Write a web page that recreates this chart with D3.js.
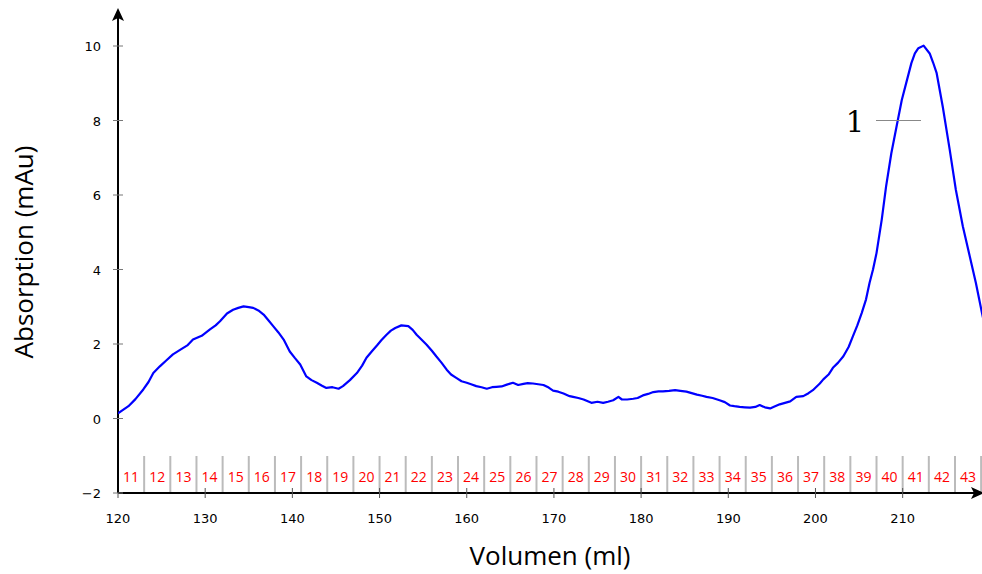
<!DOCTYPE html>
<html><head><meta charset="utf-8">
<script src="https://cdn.jsdelivr.net/npm/d3@7"></script>
<style>body{margin:0;background:#fff}svg{display:block}</style>
</head><body>
<svg id="c" width="982" height="574"></svg>
<script>
const volume = [120,121.2,122.0,122.9,123.5,124.05,124.8,125.5,126.3,127.3,128.0,128.6,129.6,130.55,131.2,131.7,132.5,133.2,133.8,134.4,135.0,135.5,136.1,136.7,137.2,137.8,138.4,139.0,139.7,140.3,140.9,141.6,142.2,142.8,143.4,143.9,144.6,145.3,145.8,146.6,147.4,148.0,148.5,149.1,149.7,150.2,150.8,151.3,151.8,152.5,153.3,153.8,154.25,154.8,155.4,156.0,156.5,157.1,157.7,158.2,158.8,159.4,160.0,160.5,161.1,161.7,162.3,162.9,163.4,164.0,164.6,165.3,165.9,166.5,167.0,167.6,168.2,168.8,169.4,169.9,170.5,171.1,171.8,172.2,172.8,173.4,174.3,175.0,175.65,176.2,176.8,177.4,177.8,178.4,179.1,179.6,180.2,180.8,181.4,182.0,182.5,183.2,183.9,184.5,185.2,185.8,186.4,187.0,187.5,188.2,189.0,189.6,190.2,190.7,191.3,191.9,192.5,193.1,193.6,194.2,194.8,195.3,195.9,196.5,197.1,197.8,198.6,199.2,199.7,200.5,200.9,201.5,202.0,202.6,203.2,203.8,204.3,204.8,205.3,205.8,206.2,206.6,207.0,207.6,208.1,208.7,209.3,209.9,210.5,211.0,211.4,211.8,212.4,213.1,213.5,213.9,214.6,215.4,216.1,216.9,217.7,218.4,219.1,219.5];
const absorbance = [0.14,0.33,0.52,0.78,0.98,1.22,1.40,1.55,1.72,1.87,1.97,2.12,2.22,2.39,2.50,2.61,2.82,2.92,2.97,3.01,2.99,2.97,2.90,2.79,2.65,2.48,2.31,2.12,1.80,1.62,1.45,1.13,1.03,0.96,0.88,0.82,0.84,0.80,0.87,1.03,1.22,1.42,1.63,1.80,1.96,2.10,2.25,2.36,2.43,2.50,2.48,2.38,2.25,2.12,1.98,1.82,1.67,1.50,1.31,1.18,1.09,1.00,0.96,0.92,0.87,0.84,0.80,0.84,0.85,0.86,0.91,0.96,0.90,0.93,0.95,0.94,0.92,0.90,0.83,0.75,0.72,0.67,0.60,0.58,0.55,0.51,0.42,0.45,0.42,0.45,0.49,0.58,0.51,0.51,0.53,0.55,0.62,0.66,0.71,0.73,0.73,0.74,0.76,0.74,0.72,0.68,0.64,0.61,0.58,0.55,0.49,0.44,0.35,0.33,0.31,0.30,0.29,0.31,0.36,0.30,0.27,0.32,0.38,0.42,0.46,0.58,0.60,0.68,0.76,0.94,1.05,1.18,1.36,1.50,1.67,1.92,2.21,2.50,2.83,3.20,3.64,4.00,4.44,5.34,6.23,7.12,7.84,8.55,9.09,9.54,9.80,9.94,10.01,9.80,9.55,9.27,8.37,7.21,6.14,5.16,4.35,3.64,2.83,2.40];
const xTicks = [120,130,140,150,160,170,180,190,200,210];
const yTicks = [-2,0,2,4,6,8,10];
const fractionNumbers = d3.range(11,44);
const fractionStart = 120, fractionWidth = 3;
const peakLabel = "1", peakLabelValue = 8;
const xTitle = "Volumen (ml)", yTitle = "Absorption (mAu)";

const svg = d3.select("#c");
const x = d3.scaleLinear().domain([120, 219.1]).range([118, 982]);
const y = d3.scaleLinear().domain([-2, 10]).range([493, 46]);

svg.append("defs").append("clipPath").attr("id","clip")
  .append("rect").attr("x",118).attr("y",0).attr("width",864).attr("height",493);

// fraction separators
const fg = svg.append("g");
fractionNumbers.forEach(n => {
  const a = fractionStart + (n-11)*fractionWidth, b = a + fractionWidth;
  fg.append("line").attr("x1", x(b)).attr("x2", x(b)).attr("y1", 456).attr("y2", 493)
    .attr("stroke","#bbb").attr("stroke-width",2);
  fg.append("text").attr("x", x((a+b)/2)).attr("y", 482).attr("text-anchor","middle")
    .attr("fill","#ff0000").attr("font-family","'Open Sans', sans-serif").attr("font-size",14)
    .text(n);
});

// axes
const xAxis = svg.append("g").attr("transform","translate(0,493)");
xAxis.append("line").attr("x1",118).attr("x2",975).attr("stroke","#000").attr("stroke-width",2);
xAxis.append("path").attr("d","M984,0 L971,-6 L974,0 L971,6 Z").attr("fill","#000");
xTicks.forEach(t => {
  xAxis.append("line").attr("x1",x(t)).attr("x2",x(t)).attr("y1",-5).attr("y2",5).attr("stroke","#555").attr("stroke-width",1);
  xAxis.append("text").attr("x",x(t)).attr("y",30).attr("text-anchor","middle")
    .attr("font-family","'DejaVu Sans', sans-serif").attr("font-size",13).attr("fill","#000").text(t);
});
const yAxis = svg.append("g").attr("transform","translate(118,0)");
yAxis.append("line").attr("y1",493).attr("y2",17).attr("stroke","#000").attr("stroke-width",2);
yAxis.append("path").attr("d","M0,8 L-6,21 L0,18 L6,21 Z").attr("fill","#000");
yTicks.forEach(t => {
  yAxis.append("line").attr("x1",-5).attr("x2",5).attr("y1",y(t)).attr("y2",y(t)).attr("stroke","#777").attr("stroke-width",1);
  yAxis.append("text").attr("x",-17).attr("y",y(t)+5).attr("text-anchor","end")
    .attr("font-family","'DejaVu Sans', sans-serif").attr("font-size",13).attr("fill","#000")
    .text(t < 0 ? "\u2212" + Math.abs(t) : t);
});

// curve
const line = d3.line().x((d,i)=>x(volume[i])).y(d=>y(d));
svg.append("path").datum(absorbance).attr("clip-path","url(#clip)")
  .attr("d", line).attr("fill","none").attr("stroke","#0000ff").attr("stroke-width",2.2)
  .attr("stroke-linejoin","round");

// peak label
svg.append("line").attr("x1",876).attr("x2",921).attr("y1",y(peakLabelValue)).attr("y2",y(peakLabelValue))
  .attr("stroke","#888").attr("stroke-width",1);
svg.append("text").attr("x",855).attr("y",y(peakLabelValue)+11).attr("text-anchor","middle")
  .attr("font-family","'DejaVu Serif', serif").attr("font-size",29).attr("fill","#000").text(peakLabel);

// titles
svg.append("text").attr("x",550).attr("y",565).attr("text-anchor","middle")
  .attr("font-family","'Open Sans', sans-serif").attr("font-size",26).attr("fill","#000").text(xTitle);
svg.append("text").attr("transform","translate(33,252) rotate(-90)").attr("text-anchor","middle")
  .attr("font-family","'Open Sans', sans-serif").attr("font-size",26).attr("fill","#000").text(yTitle);
</script>
</body></html>
